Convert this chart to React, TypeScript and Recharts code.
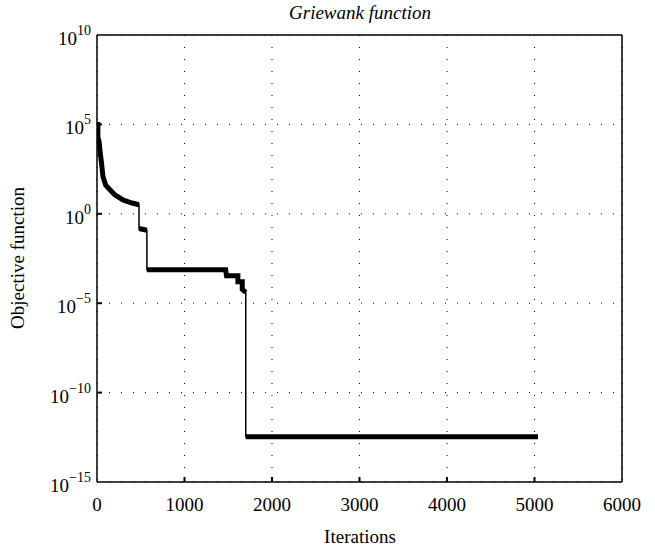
import React from "react";
import {
  LineChart,
  Line,
  XAxis,
  YAxis,
  CartesianGrid,
} from "recharts";

// objective value path (thin line through every step)
const pathIter = [0, 10, 10, 25, 35, 50, 68, 100, 148, 200, 296, 400, 480, 480, 570, 570, 1470, 1480, 1610, 1610, 1660, 1660, 1700, 1700, 5040];
const pathValue = [1e5, 1e5, 2e4, 1e4, 3e3, 8e2, 1.2e2, 40, 22, 12, 6, 4, 3.2, 0.15, 0.12, 7.5e-4, 7.5e-4, 3.4e-4, 3.4e-4, 1.6e-4, 1.6e-4, 6e-5, 4e-5, 3.4e-13, 3.4e-13];

// marker-dense runs (drawn thick, null = break)
const bandIter = [0, 10, 10, 25, 35, 50, 68, 100, 148, 200, 296, 400, 480, 480, 480, 570, 570, 570, 1470, 1480, 1610, 1610, 1660, 1660, 1700, 1700, 1700, 5040];
const bandValue = [1e5, 1e5, 2e4, 1e4, 3e3, 8e2, 1.2e2, 40, 22, 12, 6, 4, 3.2, null, 0.15, 0.12, null, 7.5e-4, 7.5e-4, 3.4e-4, 3.4e-4, 1.6e-4, 1.6e-4, 6e-5, 4e-5, null, 3.4e-13, 3.4e-13];

const xTicks = [0, 1000, 2000, 3000, 4000, 5000, 6000];
const yExponents = [-15, -10, -5, 0, 5, 10];
const yTicks = yExponents.map((e) => Math.pow(10, e));

const pathData = pathIter.map((x, i) => ({ x, y: pathValue[i] }));
const bandData = bandIter.map((x, i) => ({ x, y: bandValue[i] }));

const FONT = "Liberation Serif";

const BottomTick = (props: any) => {
  const { x, y, payload } = props;
  const inner = payload.value !== 0 && payload.value !== 6000;
  return (
    <g>
      {inner && <line x1={x} x2={x} y1={y} y2={y - 5} stroke="#000" strokeWidth={2} />}
      <text x={x} y={y + 29} textAnchor="middle" fontSize={19} fontFamily={FONT} fill="#000">
        {payload.value}
      </text>
    </g>
  );
};

const TopTick = (props: any) => {
  const { x, y, payload } = props;
  if (payload.value === 0 || payload.value === 6000) return <g />;
  return <line x1={x} x2={x} y1={y} y2={y + 5} stroke="#000" strokeWidth={2} />;
};

const LeftTick = (props: any) => {
  const { x, y, payload } = props;
  const e = Math.round(Math.log10(payload.value));
  const inner = e !== -15 && e !== 10;
  return (
    <g>
      {inner && <line x1={x} x2={x + 5} y1={y} y2={y} stroke="#000" strokeWidth={2} />}
      <text x={x - 6} y={y + 10} textAnchor="end" fontSize={19} fontFamily={FONT} fill="#000">
        <tspan>10</tspan>
        <tspan dy={-10} fontSize={14}>{e < 0 ? "\u2212" + Math.abs(e) : e}</tspan>
      </text>
    </g>
  );
};

const RightTick = (props: any) => {
  const { x, y, payload } = props;
  const e = Math.round(Math.log10(payload.value));
  if (e === -15 || e === 10) return <g />;
  return <line x1={x} x2={x - 5} y1={y} y2={y} stroke="#000" strokeWidth={2} />;
};

export default function App() {
  return (
    <div style={{ position: "absolute", left: 0, top: 0, background: "#fff" }}>
      <LineChart
        width={655}
        height={551}
        margin={{ top: 34, right: 32, bottom: 68, left: 96 }}
      >
        <CartesianGrid
          xAxisId="bottom"
          yAxisId="left"
          stroke="#000"
          strokeDasharray="1 11"
          strokeWidth={1}
        />
        <XAxis
          xAxisId="bottom"
          dataKey="x"
          type="number"
          domain={[0, 6000]}
          ticks={xTicks}
          height={1}
          tickSize={0}
          tickMargin={0}
          tickLine={false}
          axisLine={{ stroke: "#000", strokeWidth: 1.5 }}
          tick={<BottomTick />}
          interval={0}
          allowDataOverflow
        />
        <XAxis
          xAxisId="top"
          orientation="top"
          dataKey="x"
          type="number"
          domain={[0, 6000]}
          ticks={xTicks}
          height={1}
          tickSize={0}
          tickMargin={0}
          tickLine={false}
          axisLine={{ stroke: "#000", strokeWidth: 1.5 }}
          tick={<TopTick />}
          interval={0}
        />
        <YAxis
          yAxisId="left"
          dataKey="y"
          scale="log"
          type="number"
          domain={[1e-15, 1e10]}
          ticks={yTicks}
          width={1}
          tickSize={0}
          tickMargin={0}
          tickLine={false}
          axisLine={{ stroke: "#000", strokeWidth: 1.5 }}
          tick={<LeftTick />}
          interval={0}
          allowDataOverflow
        />
        <YAxis
          yAxisId="right"
          orientation="right"
          dataKey="y"
          scale="log"
          type="number"
          domain={[1e-15, 1e10]}
          ticks={yTicks}
          width={1}
          tickSize={0}
          tickMargin={0}
          tickLine={false}
          axisLine={{ stroke: "#000", strokeWidth: 1.5 }}
          tick={<RightTick />}
          interval={0}
        />
        <Line
          xAxisId="bottom"
          yAxisId="left"
          data={bandData}
          dataKey="y"
          type="linear"
          stroke="#000"
          strokeWidth={5}
          dot={false}
          connectNulls={false}
          isAnimationActive={false}
        />
        <Line
          xAxisId="bottom"
          yAxisId="left"
          data={pathData}
          dataKey="y"
          type="linear"
          stroke="#000"
          strokeWidth={1.5}
          dot={false}
          isAnimationActive={false}
        />
        <text
          x={360}
          y={19}
          textAnchor="middle"
          fill="#000"
          style={{ fontFamily: "'Liberation Serif'", fontStyle: "italic", fontSize: 19 }}
        >
          Griewank function
        </text>
        <text x={360} y={543} textAnchor="middle" fontSize={19} fontFamily={FONT} fill="#000">
          Iterations
        </text>
        <text
          x={24}
          y={258}
          textAnchor="middle"
          fontSize={19}
          fontFamily={FONT}
          fill="#000"
          transform="rotate(-90 24 258)"
        >
          Objective function
        </text>
      </LineChart>
    </div>
  );
}
